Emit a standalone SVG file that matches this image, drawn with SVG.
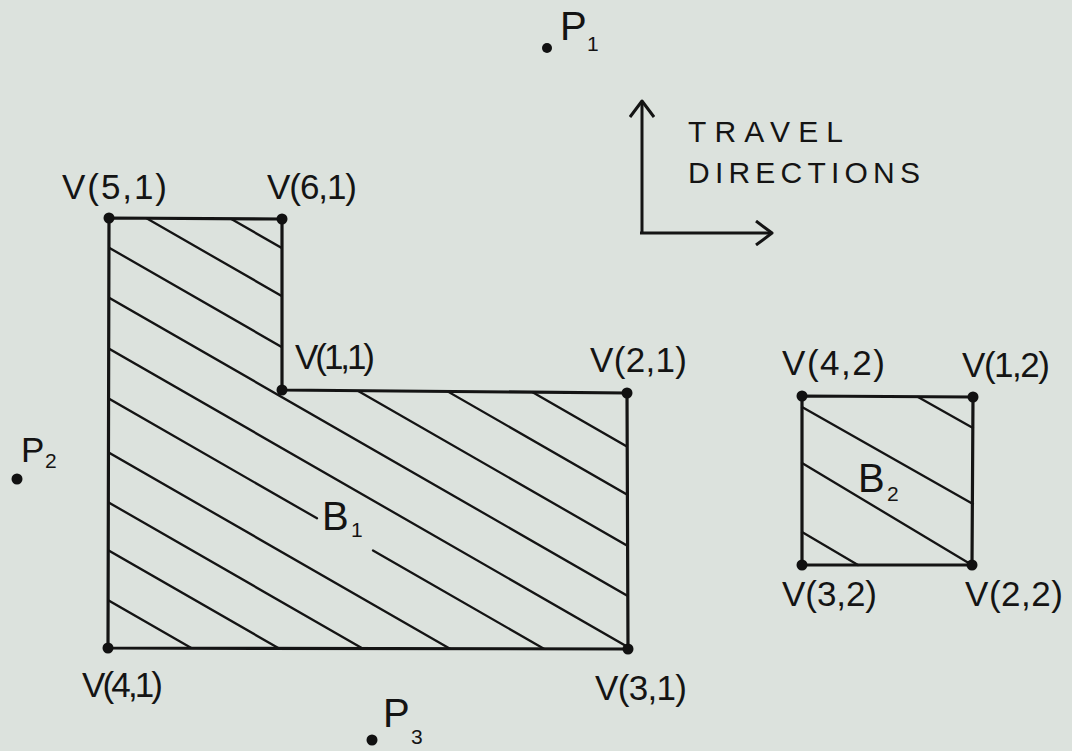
<svg xmlns="http://www.w3.org/2000/svg" width="1072" height="751" viewBox="0 0 1072 751">
  <style>
    .lbl { font-family: "Liberation Sans", Arial, sans-serif; font-size: 35px; fill: #141414; }
    .big { font-family: "Liberation Sans", Arial, sans-serif; font-size: 40px; fill: #141414; }
    .sub { font-family: "Liberation Sans", Arial, sans-serif; font-size: 21px; fill: #141414; }
    .cap { font-family: "Liberation Sans", Arial, sans-serif; font-size: 30px; fill: #141414; }
    .edge { fill: none; stroke: #141414; stroke-width: 3.2; stroke-linejoin: round; }
    .hatch { stroke: #141414; stroke-width: 2.3; stroke-linecap: round; }
    .dot { fill: #111; }
    .arrow { fill: none; stroke: #141414; stroke-width: 3; }
  </style>
  <defs>
    <clipPath id="clipB1">
      <polygon points="109,218 282,219 282,390 627,393 628,649 108,648"/>
    </clipPath>
    <marker id="arr" viewBox="0 0 20 26" markerWidth="20" markerHeight="26" refX="18" refY="13" orient="auto" markerUnits="userSpaceOnUse">
      <path d="M2,1 L18,13 L2,25" fill="none" stroke="#141414" stroke-width="3" stroke-linejoin="round"/>
    </marker>
  </defs>
  <rect x="0" y="0" width="1072" height="751" fill="#dce2dd"/>

  <g id="B1">
    <g clip-path="url(#clipB1)">
      <line class="hatch" x1="100" y1="143.5" x2="640" y2="454"/>
      <line class="hatch" x1="100" y1="191.5" x2="640" y2="502"/>
      <line class="hatch" x1="100" y1="242.5" x2="640" y2="553"/>
      <line class="hatch" x1="100" y1="292.5" x2="640" y2="603"/>
      <line class="hatch" x1="100" y1="343.5" x2="640" y2="654"/>
      <line class="hatch" x1="100" y1="393.5" x2="317" y2="518.3"/>
      <line class="hatch" x1="373" y1="550.5" x2="640" y2="704"/>
      <line class="hatch" x1="100" y1="447.5" x2="640" y2="758"/>
      <line class="hatch" x1="100" y1="497.5" x2="640" y2="808"/>
      <line class="hatch" x1="100" y1="545.5" x2="640" y2="856"/>
      <line class="hatch" x1="100" y1="595.5" x2="640" y2="906"/>
    </g>
    <polygon class="edge" points="109,218 282,219 282,390 627,393 628,649 108,648"/>
    <text class="big" x="322" y="530">B</text>
    <text class="sub" x="351" y="537">1</text>
  </g>

  <g id="B2">
    <line class="hatch" x1="918" y1="397" x2="973" y2="428"/>
    <line class="hatch" x1="802" y1="407" x2="973" y2="504"/>
    <line class="hatch" x1="802" y1="463" x2="972" y2="565"/>
    <line class="hatch" x1="802" y1="532" x2="858" y2="565"/>
    <polygon class="edge" points="802,396 973,397 972,565 802,565"/>
    <text class="big" x="858" y="492">B</text>
    <text class="sub" x="887" y="501">2</text>
  </g>

  <g id="vertices-B1">
    <g id="V51"><circle class="dot" cx="109" cy="218" r="5.5"/><text class="lbl" x="62" y="199" textLength="105" lengthAdjust="spacing">V(5,1)</text></g>
    <g id="V61"><circle class="dot" cx="282" cy="219" r="5.5"/><text class="lbl" x="267" y="199" textLength="90" lengthAdjust="spacing">V(6,1)</text></g>
    <g id="V11"><circle class="dot" cx="282" cy="390" r="5.5"/><text class="lbl" x="295" y="369" textLength="80" lengthAdjust="spacing">V(1,1)</text></g>
    <g id="V21"><circle class="dot" cx="627" cy="393" r="5.5"/><text class="lbl" x="590" y="372" textLength="97" lengthAdjust="spacing">V(2,1)</text></g>
    <g id="V31"><circle class="dot" cx="628" cy="649" r="5.5"/><text class="lbl" x="595" y="700" textLength="92" lengthAdjust="spacing">V(3,1)</text></g>
    <g id="V41"><circle class="dot" cx="108" cy="648" r="5.5"/><text class="lbl" x="82" y="697" textLength="81" lengthAdjust="spacing">V(4,1)</text></g>
  </g>

  <g id="vertices-B2">
    <g id="V42"><circle class="dot" cx="802" cy="396" r="5.5"/><text class="lbl" x="782" y="375" textLength="103" lengthAdjust="spacing">V(4,2)</text></g>
    <g id="V12"><circle class="dot" cx="973" cy="397" r="5.5"/><text class="lbl" x="962" y="377" textLength="88" lengthAdjust="spacing">V(1,2)</text></g>
    <g id="V22"><circle class="dot" cx="972" cy="565" r="5.5"/><text class="lbl" x="965" y="606" textLength="98" lengthAdjust="spacing">V(2,2)</text></g>
    <g id="V32"><circle class="dot" cx="802" cy="565" r="5.5"/><text class="lbl" x="782" y="606" textLength="95" lengthAdjust="spacing">V(3,2)</text></g>
  </g>

  <g id="P1"><circle class="dot" cx="547" cy="48" r="5"/><text class="big" x="560" y="40">P</text><text class="sub" x="587" y="51">1</text></g>
  <g id="P2"><circle class="dot" cx="17" cy="479" r="5.5"/><text class="big" x="21" y="462" style="font-size:35px">P</text><text class="sub" x="45" y="468">2</text></g>
  <g id="P3"><circle class="dot" cx="372" cy="740" r="5.5"/><text class="big" x="383" y="727">P</text><text class="sub" x="411" y="744">3</text></g>

  <g id="travel-label">
    <text class="cap" x="688" y="142" textLength="155" lengthAdjust="spacing">TRAVEL</text>
    <text class="cap" x="688" y="183" textLength="232" lengthAdjust="spacing">DIRECTIONS</text>
  </g>

  <g id="connectors">
    <path class="arrow" d="M642,233 L642,101" marker-end="url(#arr)"/>
    <path class="arrow" d="M640,233 L772,233" marker-end="url(#arr)"/>
  </g>
</svg>
